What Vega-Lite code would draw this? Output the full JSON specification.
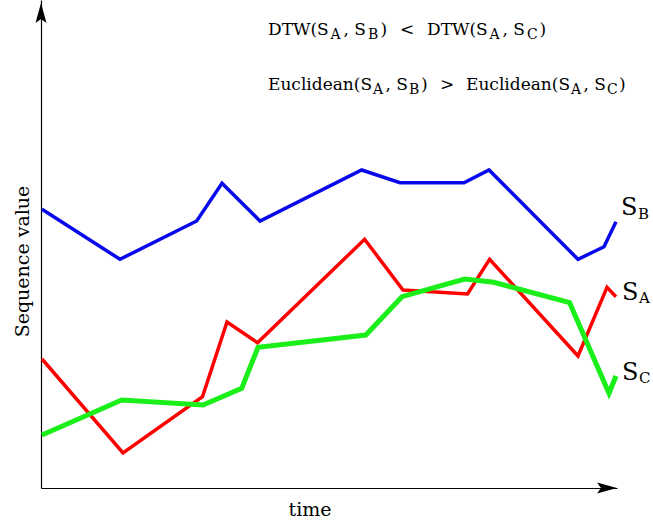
{
  "$schema": "https://vega.github.io/schema/vega-lite/v6.json",
  "width": 576,
  "height": 488,
  "autosize": {"type": "none"},
  "padding": {"left": 41, "top": 0, "right": 36, "bottom": 33},
  "background": "white",
  "config": {"view": {"stroke": null}},
  "datasets": {
    "sb": [
      {"x": 1, "y": 278.7}, {"x": 79, "y": 228.7}, {"x": 155.7, "y": 267}, {"x": 181, "y": 304.7},
      {"x": 219, "y": 267}, {"x": 320.7, "y": 318}, {"x": 359, "y": 305.3}, {"x": 423, "y": 305.3},
      {"x": 448, "y": 318}, {"x": 537, "y": 228.7}, {"x": 563, "y": 241.3}, {"x": 575, "y": 266.3}
    ],
    "sa": [
      {"x": 1, "y": 129}, {"x": 82, "y": 35}, {"x": 161.5, "y": 91.3}, {"x": 186, "y": 166},
      {"x": 216.5, "y": 145.3}, {"x": 323.6, "y": 248.7}, {"x": 362, "y": 198}, {"x": 426.5, "y": 194},
      {"x": 448.6, "y": 228.7}, {"x": 537, "y": 132}, {"x": 566, "y": 200.7}, {"x": 575, "y": 191.3}
    ],
    "sc": [
      {"x": 1, "y": 53}, {"x": 80.7, "y": 88}, {"x": 162, "y": 83}, {"x": 200.7, "y": 99.7},
      {"x": 217, "y": 140.7}, {"x": 324.8, "y": 153}, {"x": 361, "y": 191.3}, {"x": 423.6, "y": 209},
      {"x": 452.7, "y": 205.7}, {"x": 528.6, "y": 185.3}, {"x": 568, "y": 94.7}, {"x": 575, "y": 112}
    ],
    "arrows": [
      {"x": 566, "y": 0, "dir": "right"},
      {"x": 0, "y": 475, "dir": "up"}
    ],
    "mainText": [
      {"x": 227, "y": 453, "t": "DTW(S"},
      {"x": 302.5, "y": 453, "t": ", S"},
      {"x": 339.5, "y": 453, "t": ")"},
      {"x": 359, "y": 453, "t": "<"},
      {"x": 386, "y": 453, "t": "DTW(S"},
      {"x": 461.5, "y": 453, "t": ", S"},
      {"x": 498.5, "y": 453, "t": ")"},
      {"x": 227, "y": 398, "t": "Euclidean(S"},
      {"x": 344.5, "y": 398, "t": ", S"},
      {"x": 380, "y": 398, "t": ")"},
      {"x": 399, "y": 398, "t": ">"},
      {"x": 425, "y": 398, "t": "Euclidean(S"},
      {"x": 542.5, "y": 398, "t": ", S"},
      {"x": 578, "y": 398, "t": ")"}
    ],
    "subText": [
      {"x": 289.5, "y": 449, "t": "A"},
      {"x": 327, "y": 449, "t": "B"},
      {"x": 448.5, "y": 449, "t": "A"},
      {"x": 486, "y": 449, "t": "C"},
      {"x": 332, "y": 394, "t": "A"},
      {"x": 368, "y": 394, "t": "B"},
      {"x": 530, "y": 394, "t": "A"},
      {"x": 566, "y": 394, "t": "C"}
    ],
    "labelMain": [
      {"x": 580, "y": 273, "t": "S"},
      {"x": 581, "y": 188, "t": "S"},
      {"x": 581, "y": 108, "t": "S"}
    ],
    "labelSub": [
      {"x": 597, "y": 269, "t": "B"},
      {"x": 598, "y": 185, "t": "A"},
      {"x": 598, "y": 105, "t": "C"}
    ]
  },
  "encoding": {
    "x": {
      "field": "x", "type": "quantitative",
      "scale": {"domain": [0, 576], "nice": false, "zero": false},
      "axis": {
        "domain": true, "domainColor": "#000", "domainWidth": 1.2,
        "ticks": false, "labels": false, "grid": false,
        "title": "time", "titleFont": "DejaVu Serif", "titleFontSize": 19,
        "titleFontWeight": "normal", "titleColor": "#000",
        "titleX": 268.5, "titleY": 27, "titleBaseline": "alphabetic", "titleAlign": "center"
      }
    },
    "y": {
      "field": "y", "type": "quantitative",
      "scale": {"domain": [0, 488], "nice": false, "zero": false},
      "axis": {
        "domain": true, "domainColor": "#000", "domainWidth": 1.2,
        "ticks": false, "labels": false, "grid": false,
        "title": "Sequence value", "titleFont": "DejaVu Serif", "titleFontSize": 19,
        "titleFontWeight": "normal", "titleColor": "#000", "titleAngle": 270,
        "titleX": -13, "titleY": 261, "titleBaseline": "alphabetic", "titleAlign": "center"
      }
    }
  },
  "layer": [
    {"data": {"name": "sb"}, "mark": {"type": "line", "color": "#0808ec", "strokeWidth": 3.5, "strokeJoin": "miter"}},
    {"data": {"name": "sa"}, "mark": {"type": "line", "color": "#ff0000", "strokeWidth": 3.5, "strokeJoin": "miter"}},
    {"data": {"name": "sc"}, "mark": {"type": "line", "color": "#1aef1a", "strokeWidth": 5, "strokeJoin": "miter"}},
    {
      "data": {"name": "arrows"},
      "mark": {"type": "point", "filled": true, "opacity": 1, "color": "#000", "size": 400, "strokeWidth": 0},
      "encoding": {
        "shape": {
          "field": "dir", "type": "nominal",
          "scale": {"domain": ["right", "up"], "range": ["M1,0 L-1,-0.55 L-0.6,0 L-1,0.55 Z", "M0,-1 L-0.55,1 L0,0.6 L0.55,1 Z"]},
          "legend": null
        }
      }
    },
    {
      "data": {"name": "mainText"},
      "mark": {"type": "text", "font": "DejaVu Serif", "fontSize": 17, "align": "left", "baseline": "alphabetic", "color": "#000"},
      "encoding": {"text": {"field": "t"}}
    },
    {
      "data": {"name": "subText"},
      "mark": {"type": "text", "font": "DejaVu Serif", "fontSize": 14, "align": "left", "baseline": "alphabetic", "color": "#000"},
      "encoding": {"text": {"field": "t"}}
    },
    {
      "data": {"name": "labelMain"},
      "mark": {"type": "text", "font": "DejaVu Serif", "fontSize": 24, "align": "left", "baseline": "alphabetic", "color": "#000"},
      "encoding": {"text": {"field": "t"}}
    },
    {
      "data": {"name": "labelSub"},
      "mark": {"type": "text", "font": "DejaVu Serif", "fontSize": 15, "align": "left", "baseline": "alphabetic", "color": "#000"},
      "encoding": {"text": {"field": "t"}}
    }
  ]
}
